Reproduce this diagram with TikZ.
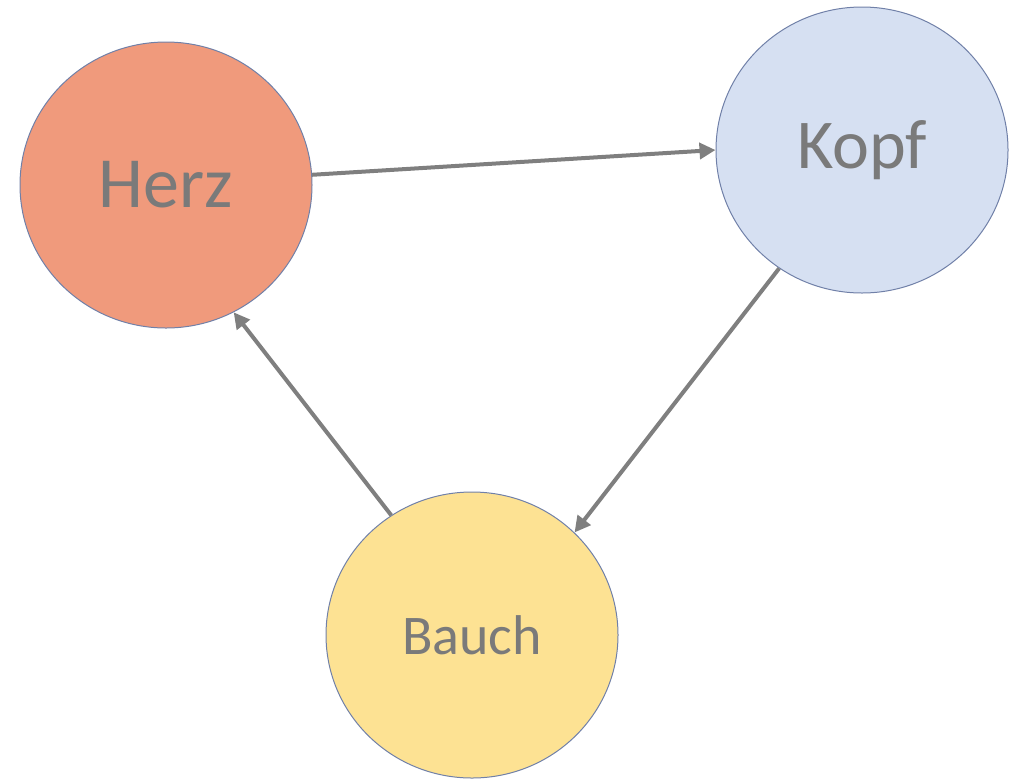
\documentclass[tikz,border=0pt]{standalone}
\usepackage{fontspec}
\setmainfont{Carlito}
\usetikzlibrary{shapes.geometric,arrows.meta}
\definecolor{herzfill}{HTML}{F09A7C}
\definecolor{kopffill}{HTML}{D6E0F2}
\definecolor{bauchfill}{HTML}{FDE293}
\definecolor{rim}{HTML}{7080A8}
\definecolor{txt}{HTML}{7A7A7A}
\definecolor{arr}{HTML}{7F7F7F}
\tikzset{
  bubble/.style={ellipse, draw=rim, line width=1pt, minimum width=292pt, minimum height=286pt, inner sep=0pt, text=txt},
  link/.style={draw=arr, line width=4pt, -{Triangle[length=16pt,width=16pt]}}
}
\begin{document}
\begin{tikzpicture}[x=1pt,y=-1pt]
\useasboundingbox (0,0) rectangle (1016,780);
\node[bubble, fill=herzfill, font=\fontsize{72}{80}\selectfont] (herz) at (166,185) {Herz};
\node[bubble, fill=kopffill, font=\fontsize{70}{80}\selectfont] (kopf) at (862,150) {Kopf};
\node[bubble, fill=bauchfill, font=\fontsize{56}{64}\selectfont] (bauch) at (472,635) {Bauch};
\draw[link] (herz.4) -- (kopf.180);
\draw[link] (kopf.235) -- (bauch.45);
\draw[link] (bauch.124) -- (herz.298);
\end{tikzpicture}
\end{document}
